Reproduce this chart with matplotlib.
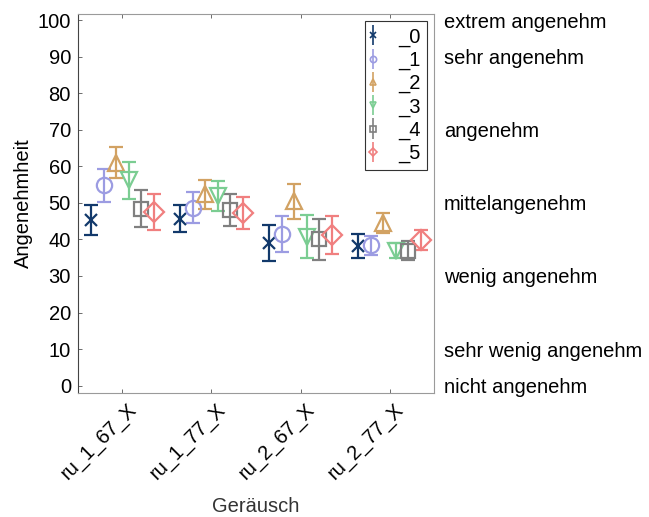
"""Angenehmheit ratings per noise stimulus (mean +/- error) for six groups."""
import numpy as np
import matplotlib

matplotlib.use("Agg")
import matplotlib.pyplot as plt

plt.rcParams["font.family"] = ["Liberation Sans", "DejaVu Sans"]

STIMULI = ["ru_1_67_X", "ru_1_77_X", "ru_2_67_X", "ru_2_77_X"]
GROUPS = ["_0", "_1", "_2", "_3", "_4", "_5"]

# mean ratings per group (rows) and stimulus (cols)
MEANS = [
    [45.3, 45.7, 39.0, 38.2],
    [54.8, 48.7, 41.4, 38.4],
    [61.0, 52.3, 50.5, 44.4],
    [56.2, 51.9, 40.8, 36.9],
    [48.4, 48.0, 40.0, 36.9],
    [47.5, 47.2, 41.1, 39.8],
]
ERRS = [
    [4.2, 3.6, 5.0, 3.2],
    [4.5, 4.2, 4.9, 2.6],
    [4.3, 4.0, 4.8, 2.7],
    [5.0, 4.1, 6.0, 2.0],
    [5.0, 4.4, 5.5, 2.6],
    [5.0, 4.4, 5.2, 2.8],
]

SCALE_VALUES = [0, 10, 30, 50, 70, 90, 100]
SCALE_LABELS = ["nicht angenehm", "sehr wenig angenehm", "wenig angenehm",
                "mittelangenehm", "angenehm", "sehr angenehm", "extrem angenehm"]

COLORS = ["#12396b", "#9c9ce2", "#d2a263", "#7bcd92", "#808080", "#f07f7f"]
MARKERS = ["x", "o", "^", "v", "s", "D"]
MSIZES = [9, 11, 12, 12, 10, 10]
OFFSETS = np.linspace(-0.35, 0.35, len(GROUPS))
FS = 14.5


def main():
    fig = plt.figure(figsize=(6.49, 5.17), dpi=100)
    ax = fig.add_axes([0.120, 0.240, 0.549, 0.733])
    x = np.arange(1, len(STIMULI) + 1)

    proxies = []
    for i, g in enumerate(GROUPS):
        ax.errorbar(x + OFFSETS[i], MEANS[i], yerr=ERRS[i], fmt=MARKERS[i],
                    color=COLORS[i], mfc="none", mec=COLORS[i], ms=MSIZES[i],
                    mew=1.6, elinewidth=1.6, capsize=5, capthick=1.6)
        # small copy of the marker style for the legend
        proxies.append(ax.errorbar([], [], yerr=[], fmt=MARKERS[i], color=COLORS[i],
                                   mfc="none", mec=COLORS[i], ms=4.5, mew=1.2,
                                   elinewidth=1.2, capsize=2.5, capthick=1.2))

    ax.set_xlim(0.5, 4.5)
    ax.set_ylim(-2, 101.7)
    ax.set_yticks(range(0, 101, 10))
    ax.set_xticks(x)
    ax.set_xticklabels([])
    # rotated stimulus names, anchored a little right of each tick (MATLAB style)
    for xi, name in zip(x, STIMULI):
        ax.annotate(name, xy=(xi, 0), xycoords=ax.get_xaxis_transform(),
                    xytext=(3, -5), textcoords="offset points", rotation=45,
                    ha="right", va="top", rotation_mode="anchor", fontsize=FS)
    ax.tick_params(direction="in", top=True, right=True, length=3,
                   width=0.6, color="#555555", labelsize=FS, pad=5)
    for side, sp in ax.spines.items():
        sp.set_linewidth(0.8)
        sp.set_color("#444444" if side == "left" else "#9a9a9a")

    ax.set_xlabel("Geräusch", fontsize=FS, color="#333333", va="top")
    ax.xaxis.set_label_coords(0.5, -0.275)
    ax.set_ylabel("Angenehmheit", fontsize=FS, labelpad=3)

    rax = ax.twinx()
    rax.set_ylim(ax.get_ylim())
    rax.set_yticks(SCALE_VALUES)
    rax.set_yticklabels(SCALE_LABELS, fontsize=FS)
    rax.tick_params(length=0, pad=7)
    for sp in rax.spines.values():
        sp.set_visible(False)

    leg = ax.legend(proxies, GROUPS, loc="upper right", fontsize=FS,
                    handlelength=0.15, handletextpad=1.2,
                    labelspacing=0.2, borderpad=0.32, borderaxespad=0.35,
                    fancybox=False, framealpha=1)
    leg.get_frame().set_edgecolor("#333333")
    leg.get_frame().set_linewidth(0.8)

    fig.savefig("out.png", dpi=100)
    plt.close(fig)


if __name__ == "__main__":
    main()
